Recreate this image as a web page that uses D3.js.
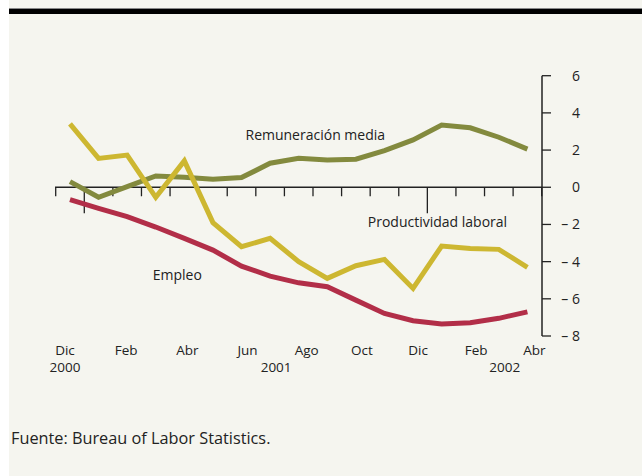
<!DOCTYPE html>
<html><head><meta charset="utf-8">
<script src="https://cdn.jsdelivr.net/npm/d3@7"></script>
<style>body{margin:0;background:#fff;} svg{display:block;} text{font-family:"Open Sans","Noto Sans",sans-serif;fill:#222;}</style>
</head><body>
<svg id="c" width="642" height="476"></svg>
<script>
const months = ["Dic00","Ene01","Feb01","Mar01","Abr01","May01","Jun01","Jul01","Ago01","Sep01","Oct01","Nov01","Dic01","Ene02","Feb02","Mar02","Abr02"];
const monthLabels = [["Dic00","Dic"],["Feb01","Feb"],["Abr01","Abr"],["Jun01","Jun"],["Ago01","Ago"],["Oct01","Oct"],["Dic01","Dic"],["Feb02","Feb"],["Abr02","Abr"]];
const monthLabelShift = [-5,-1,3,6,8,6,5,6,7];
const yearLabels = [["Dic00","2000",-5],["Jul01","2001",6],["Mar02","2002",6]];
const remuneracion = [0.30,-0.54,0.03,0.61,0.54,0.43,0.52,1.29,1.56,1.47,1.51,1.97,2.55,3.35,3.20,2.69,2.05];
const productividad = [3.41,1.55,1.73,-0.54,1.42,-1.90,-3.20,-2.75,-4.0,-4.9,-4.22,-3.88,-5.44,-3.16,-3.30,-3.34,-4.31];
const empleo = [-0.67,-1.14,-1.58,-2.14,-2.75,-3.38,-4.24,-4.78,-5.14,-5.35,-6.07,-6.79,-7.18,-7.36,-7.29,-7.05,-6.70];
const yTicks = [6,4,2,0,-2,-4,-6,-8];

const svg = d3.select("#c");
svg.append("rect").attr("x",9).attr("y",0).attr("width",633).attr("height",476).attr("fill","#f5f5ef");
svg.append("rect").attr("x",9).attr("y",8).attr("width",633).attr("height",1).attr("fill","#888");
svg.append("rect").attr("x",9).attr("y",9).attr("width",633).attr("height",5).attr("fill","#000");

const x = d3.scaleBand().domain(months).range([55.7,541.7]);
const xc = m => x(m)+x.bandwidth()/2;
const y = d3.scaleLinear().domain([-8,6]).range([336,75.7]);

// x axis
const g = svg.append("g");
g.append("line").attr("x1",55).attr("x2",542).attr("y1",y(0)).attr("y2",y(0)).attr("stroke","#222").attr("stroke-width",1.5);
const bounds = months.map(m=>x(m)).concat([x.range()[1]]);
g.selectAll(".xt").data(bounds).join("line")
  .attr("x1",d=>d).attr("x2",d=>d).attr("y1",y(0))
  .attr("y2",(d,i)=> (i===1||i===13) ? y(0)+26 : y(0)+9)
  .attr("stroke","#222").attr("stroke-width",1.3);
g.selectAll(".ml").data(monthLabels).join("text")
  .attr("x",(d,i)=>xc(d[0])+monthLabelShift[i]).attr("y",355).attr("text-anchor","middle")
  .attr("font-size",13.5).text(d=>d[1]);
g.selectAll(".yl").data(yearLabels).join("text")
  .attr("x",d=>xc(d[0])+d[2]).attr("y",372).attr("text-anchor","middle")
  .attr("font-size",13.5).text(d=>d[1]);

// y axis
const ya = svg.append("g");
ya.append("line").attr("x1",542).attr("x2",542).attr("y1",y(6)).attr("y2",y(-8)).attr("stroke","#222").attr("stroke-width",1.5);
ya.selectAll("line.t").data(yTicks).join("line").attr("class","t")
  .attr("x1",542).attr("x2",551).attr("y1",d=>y(d)).attr("y2",d=>y(d)).attr("stroke","#222").attr("stroke-width",1.3);
ya.selectAll("text").data(yTicks).join("text")
  .attr("x",580).attr("y",d=>y(d)+5).attr("text-anchor","end").attr("font-size",14)
  .text(d=> d<0 ? "\u2013 "+(-d) : String(d));

// lines
const line = d3.line().x((d,i)=>xc(months[i])).y(d=>y(d));
const series = [[remuneracion,"#838a3e"],[productividad,"#cdb731"],[empleo,"#b22e48"]];
series.forEach(([data,col])=>{
  svg.append("path").datum(data).attr("d",line).attr("fill","none")
    .attr("stroke",col).attr("stroke-width",5).attr("stroke-linejoin","miter");
});

// series labels
svg.append("text").attr("x",xc("Sep01")-12).attr("y",y(2.55)).attr("text-anchor","middle").attr("font-size",14).text("Remuneración media");
svg.append("text").attr("x",xc("Nov01")+53).attr("y",y(-2.16)).attr("text-anchor","middle").attr("font-size",14).text("Productividad laboral");
svg.append("text").attr("x",xc("Abr01")-7).attr("y",y(-4.97)).attr("text-anchor","middle").attr("font-size",14).text("Empleo");

svg.append("text").attr("x",11).attr("y",444).attr("font-size",16.3).text("Fuente: Bureau of Labor Statistics.");
</script>
</body></html>
